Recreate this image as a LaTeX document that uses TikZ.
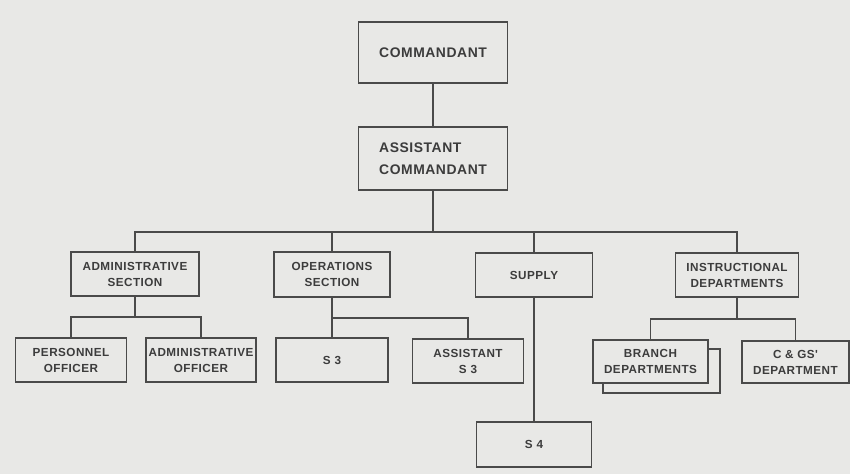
\documentclass[tikz,border=0pt]{standalone}
\usepackage{fontspec}
\newfontfamily\chartfont[LetterSpace=4]{Liberation Sans}
\definecolor{paper}{HTML}{E8E8E6}
\definecolor{ink}{HTML}{4A4A4A}
\definecolor{txt}{HTML}{3C3C3C}
\tikzset{
  orgbox/.style={draw=ink, line width=1.5pt, fill=paper, align=center, inner sep=0pt,
    font=\chartfont\bfseries\fontsize{11.7}{16}\selectfont, text=txt},
  bigbox/.style={orgbox, minimum width=149pt, font=\chartfont\bfseries\fontsize{13.9}{22}\selectfont},
  link/.style={draw=ink, line width=1.6pt}
}
\begin{document}
\begin{tikzpicture}[x=1pt,y=-1pt]
\fill[paper] (0,0) rectangle (850,474);
\useasboundingbox (0,0) rectangle (850,474);
\node[bigbox, minimum height=61pt] (cmd) at (433,52.5) {COMMANDANT};
\node[bigbox, minimum height=63pt, align=left] (asst) at (433,158.5) {ASSISTANT\\COMMANDANT};
\node[orgbox, minimum width=128pt, minimum height=44pt] (adm) at (135,274) {ADMINISTRATIVE\\SECTION};
\node[orgbox, minimum width=116pt, minimum height=45pt] (ops) at (332,274.5) {OPERATIONS\\SECTION};
\node[orgbox, minimum width=117pt, minimum height=44pt] (sup) at (534,275) {SUPPLY};
\node[orgbox, minimum width=123pt, minimum height=44pt] (ins) at (737,275) {INSTRUCTIONAL\\DEPARTMENTS};
\node[orgbox, minimum width=111pt, minimum height=44pt] (per) at (71,360) {PERSONNEL\\OFFICER};
\node[orgbox, minimum width=110pt, minimum height=44pt] (admo) at (201,360) {ADMINISTRATIVE\\OFFICER};
\node[orgbox, minimum width=112pt, minimum height=44pt] (s3) at (332,360) {S 3};
\node[orgbox, minimum width=111pt, minimum height=44pt] (as3) at (468,361) {ASSISTANT\\S 3};
\node[orgbox, minimum width=117pt, minimum height=44pt] (brs) at (661.5,371) {};
\node[orgbox, minimum width=115pt, minimum height=43pt] (br) at (650.5,361.5) {BRANCH\\DEPARTMENTS};
\node[orgbox, minimum width=107pt, minimum height=42pt] (cgs) at (795.5,362) {C \& GS'\\DEPARTMENT};
\node[orgbox, minimum width=115pt, minimum height=45pt] (s4) at (534,444.5) {S 4};
% connectors
\coordinate (bus) at (433,232);
\draw[link] (cmd) -- (asst);
\draw[link] (asst.south) -- (bus);
\draw[link] (adm.north) |- (ins.north |- bus) -- (ins.north);
\draw[link] (ops.north) -- (ops.north |- bus);
\draw[link] (sup.north) -- (sup.north |- bus);
\draw[link] (sup.south) -- (s4.north);
\coordinate (ab) at (135,317);
\draw[link] (adm.south) -- (ab);
\draw[link] (per.north) |- (ab) -| (admo.north);
\draw[link] (ops.south) -- (s3.north);
\coordinate (ob) at (332,318);
\draw[link] (ob) -| (as3.north);
\coordinate (ib) at (737,319);
\draw[link] (ins.south) -- (ib);
\draw[link] (br.north) |- (ib) -| (cgs.north);
\end{tikzpicture}
\end{document}
